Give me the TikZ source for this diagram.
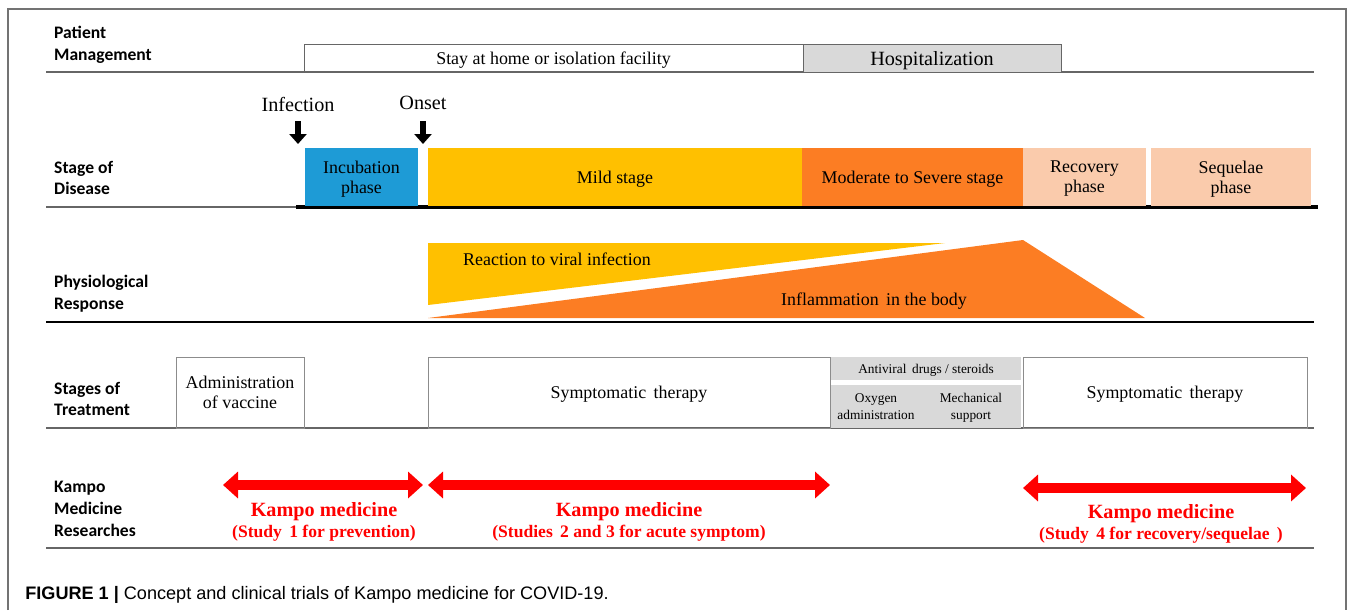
\documentclass[tikz,border=0pt]{standalone}
\usepackage{fontspec}
\setmainfont{Liberation Serif}
\newfontfamily\rowfont{Carlito}
\newfontfamily\capfont{Liberation Sans}
\usetikzlibrary{arrows.meta}
\definecolor{incblue}{RGB}{30,155,214}
\definecolor{mildyel}{RGB}{255,192,0}
\definecolor{modorg}{RGB}{252,125,35}
\definecolor{peach}{RGB}{250,203,172}

\begin{document}
\begin{tikzpicture}[x=0.02cm, y=-0.02cm,
    sep/.style={draw=black!60, line width=0.9pt},
    rowlab/.style={anchor=west, align=left, font=\rowfont\bfseries\fontsize{10}{12.4}\selectfont},
    txt/.style={align=center, font=\fontsize{10.2}{11.5}\selectfont, inner sep=0pt, text depth=0pt},
    big/.style={txt, font=\fontsize{11.5}{13}\selectfont},
    small/.style={align=center, font=\fontsize{7.6}{9.6}\selectfont, inner sep=0pt, text depth=0pt},
    cell/.style={txt, minimum height=1.16cm},
    tbox/.style={txt, draw=black!45, line width=0.5pt, minimum height=1.42cm},
    gbox/.style={small, fill=black!15},
    kampo/.style={text=red, text depth=0pt, font=\bfseries\fontsize{11.5}{13}\selectfont},
    study/.style={text=red, text depth=0pt, font=\bfseries\fontsize{10}{12}\selectfont},
    redarr/.style={draw=red, line width=0.2cm, {Triangle[length=0.3cm,width=0.52cm]}-{Triangle[length=0.3cm,width=0.52cm]}},
    downarr/.style={line width=0.12cm, -{Triangle[length=0.2cm,width=0.34cm]}}]
  \useasboundingbox (0,0) rectangle (1355,610);
  % frame
  \draw[black!55, line width=0.6pt] (8,610) -- (8,9) -- (1346,9) -- (1346,610);
  % row labels
  \foreach \n/\y/\t in {pm/45/{Patient\\Management}, sd/178/{Stage of\\Disease},
      pr/294/{Physiological\\Response}, st/399/{Stages of\\Treatment},
      kr/509/{Kampo\\Medicine\\Researches}}
    \node[rowlab] (\n) at (48,\y) {\t};
  % separators
  \foreach \y in {72, 428, 548}
    \draw[sep] (46,\y) -- (1314,\y);
  \draw[sep] (46,207) -- (296,207);
  \draw[line width=2pt] (296,207) -- (1318,207);
  \draw[line width=1pt] (46,322) -- (1314,322);

  % patient management
  \node[txt, draw=black!60, line width=0.5pt, minimum width=9.98cm, minimum height=0.56cm] (home) at (553.5,58) {Stay at home or isolation facility};
  \node[big, draw=black!60, line width=0.5pt, fill=black!15, minimum width=5.16cm, minimum height=0.56cm] (hosp) at (932,58) {Hospitalization};

  % stage of disease
  \node[big] (inf) at (298,104) {Infection};
  \node[big] (ons) at (423,103) {Onset};
  \coordinate (infA) at (298,121); \coordinate (infB) at (298,144);
  \coordinate (onsA) at (423,121); \coordinate (onsB) at (423,144);
  \draw[downarr] (infA) -- (infB);
  \draw[downarr] (onsA) -- (onsB);
  \foreach \n/\cx/\w/\c/\t in {inc/361.5/2.26/incblue/{Incubation\\phase},
      mild/615/7.48/mildyel/{Mild stage}, mod/912.5/4.42/modorg/{Moderate to Severe stage},
      rec/1084.5/2.46/peach/{Recovery\\phase}, seq/1231/3.2/peach/{Sequelae\\phase}}
    \node[cell, fill=\c, minimum width=\w cm] (\n) at (\cx,177) {\t};

  % physiological response
  \fill[mildyel] (428,243) -- (945,243) -- (428,305) -- cycle;
  \fill[modorg] (428,318) -- (1023,240) -- (1145,318) -- cycle;
  \node[txt] (viral) at (557,259) {Reaction to viral infection};
  \node[txt] (infl) at (874,299) {Inflammation\, in the body};

  % stages of treatment
  \node[tbox, minimum width=2.56cm] (vac) at (240,392.5) {Administration\\of vaccine};
  \node[tbox, minimum width=8.04cm] (sym) at (629,392.5) {Symptomatic\, therapy};
  \node[gbox, minimum width=3.8cm, minimum height=0.46cm] (anti) at (926,368.5) {Antiviral\, drugs / steroids};
  \node[gbox, minimum width=1.8cm, minimum height=0.86cm] (oxy) at (876,406.5) {Oxygen\\administration};
  \node[gbox, minimum width=2cm, minimum height=0.86cm] (mech) at (971,406.5) {Mechanical\\support};
  \node[tbox, minimum width=5.68cm] (symb) at (1165,392.5) {Symptomatic\, therapy};

  % kampo medicine researches
  \coordinate (k1a) at (223,485); \coordinate (k1b) at (423,485);
  \coordinate (k2a) at (428,485); \coordinate (k2b) at (830,485);
  \coordinate (k3a) at (1023,488); \coordinate (k3b) at (1306,488);
  \draw[redarr] (k1a) -- (k1b);
  \draw[redarr] (k2a) -- (k2b);
  \draw[redarr] (k3a) -- (k3b);
  \node[kampo] (km1) at (324,509) {Kampo medicine};
  \node[study] (ks1) at (324,531) {(Study\, 1 for prevention)};
  \node[kampo] (km2) at (629,509) {Kampo medicine};
  \node[study] (ks2) at (629,531) {(Studies\, 2 and 3 for acute symptom)};
  \node[kampo] (km3) at (1161,511) {Kampo medicine};
  \node[study] (ks3) at (1161,533) {(Study\, 4 for recovery/sequelae\, )};

  % caption
  \node[anchor=west, inner sep=0pt, text depth=0pt, font=\capfont\fontsize{10.3}{12}\selectfont] (cap) at (25,593)
    {\textbf{FIGURE 1 |} Concept and clinical trials of Kampo medicine for COVID-19.};
\end{tikzpicture}
\end{document}
